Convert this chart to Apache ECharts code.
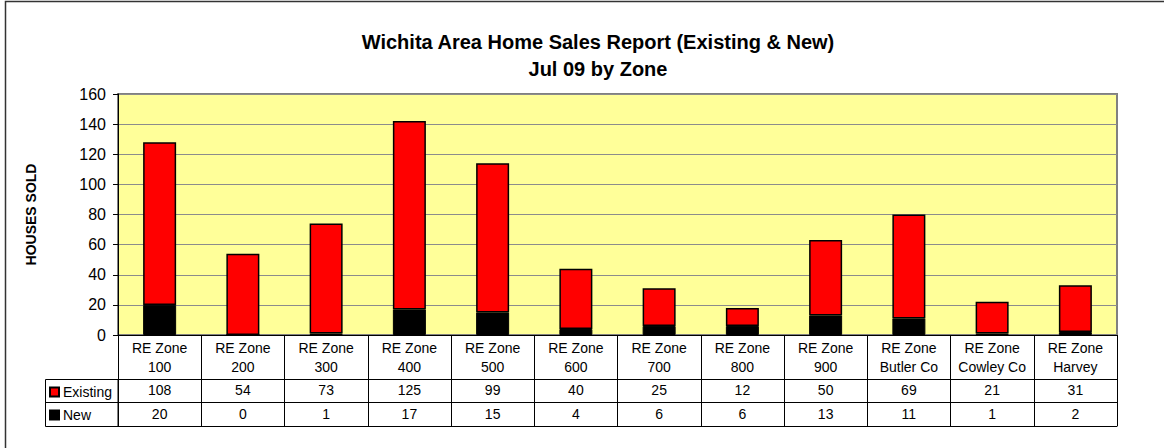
<!DOCTYPE html>
<html>
<head>
<meta charset="utf-8">
<script src="https://cdn.jsdelivr.net/npm/echarts@6/dist/echarts.min.js"></script>
<style>
  html, body { margin: 0; padding: 0; background: #fff; }
  #main { width: 1164px; height: 448px; }
</style>
</head>
<body>
<div id="main"></div>
<script>
    // zones along the x axis
    var zones = ['RE Zone\n100', 'RE Zone\n200', 'RE Zone\n300', 'RE Zone\n400', 'RE Zone\n500', 'RE Zone\n600',
        'RE Zone\n700', 'RE Zone\n800', 'RE Zone\n900', 'RE Zone\nButler Co', 'RE Zone\nCowley Co', 'RE Zone\nHarvey'];
    var existing = [108, 54, 73, 125, 99, 40, 25, 12, 50, 69, 21, 31];
    var newHomes = [20, 0, 1, 17, 15, 4, 6, 6, 13, 11, 1, 2];
    var yTicks = [0, 20, 40, 60, 80, 100, 120, 140, 160];

    var font = 'Liberation Sans, Arial, sans-serif';
    var chart = echarts.init(document.getElementById('main'), null, {renderer: 'svg'});

    // category axes used as the rows of the data table under the plot
    function tableRow(values, offset, margin, show) {
        return {
            type: 'category',
            position: 'bottom',
            offset: offset,
            data: values.map(String),
            axisLine: {show: true, lineStyle: {color: '#000', width: 1}},
            axisTick: {show: false},
            axisLabel: {show: show, interval: 0, margin: margin, color: '#000', fontSize: 14, fontFamily: font},
            splitLine: {show: false}
        };
    }

    chart.setOption({
        backgroundColor: '#fff',
        animation: false,
        title: {
            text: 'Wichita Area Home Sales Report (Existing & New)\nJul 09 by Zone',
            left: 593,
            top: 23,
            textAlign: 'center',
            textStyle: {fontSize: 20, fontWeight: 'bold', color: '#000', fontFamily: font, lineHeight: 27}
        },
        legend: {
            orient: 'vertical',
            left: 49,
            top: 385,
            padding: 0,
            itemWidth: 9,
            itemHeight: 9,
            itemGap: 9,
            icon: 'rect',
            selectedMode: false,
            data: ['Existing', 'New'],
            textStyle: {fontSize: 14, color: '#000', fontFamily: font, padding: [0, 0, 0, -1]}
        },
        grid: {left: 118, top: 94, width: 999, height: 241, containLabel: false},
        xAxis: [
            {
                type: 'category',
                position: 'bottom',
                data: zones,
                axisLine: {show: true, lineStyle: {color: '#000', width: 1}},
                axisTick: {show: true, interval: 0, inside: false, length: 91, lineStyle: {color: '#000'}},
                axisLabel: {interval: 0, margin: 3, color: '#000', fontSize: 14, lineHeight: 19, fontFamily: font},
                splitLine: {show: false}
            },
            tableRow(existing, 44, 4, true),
            tableRow(newHomes, 67, 5, true),
            tableRow(newHomes, 91, 6, false)
        ],
        yAxis: {
            type: 'value',
            min: 0,
            max: 160,
            interval: 20,
            name: 'HOUSES SOLD',
            nameLocation: 'middle',
            nameRotate: 90,
            nameGap: 80,
            nameTextStyle: {fontSize: 14, fontWeight: 'bold', color: '#000', fontFamily: font},
            axisLine: {show: true, lineStyle: {color: '#000'}},
            axisTick: {show: true, inside: false, length: 5, lineStyle: {color: '#000'}},
            axisLabel: {
                color: '#000', fontSize: 16, fontFamily: font, margin: 12,
                formatter: function (v) { return yTicks.indexOf(v) >= 0 ? String(v) : ''; }
            },
            splitLine: {show: true, lineStyle: {color: '#8c8c8c', width: 1}}
        },
        graphic: [
            // yellow plot background with grey frame
            {type: 'rect', z: -10, shape: {x: 118, y: 94, width: 999, height: 241},
                style: {fill: '#FFFF99', stroke: '#808080', lineWidth: 2}},
            // legend column of the data table
            {type: 'rect', z: 10, shape: {x: 45.5, y: 379.5, width: 72.5, height: 47},
                style: {fill: 'none', stroke: '#000', lineWidth: 1}},
            {type: 'line', z: 10, shape: {x1: 45.5, y1: 402.5, x2: 118, y2: 402.5},
                style: {stroke: '#000', lineWidth: 1}},
            // outer chart border
            {type: 'rect', z: 10, shape: {x: 5.5, y: 1.5, width: 1170, height: 460},
                style: {fill: 'none', stroke: '#333', lineWidth: 1.5}}
        ],
        series: [
            {
                name: 'New',
                type: 'bar',
                stack: 'sold',
                barWidth: 33,
                data: newHomes,
                itemStyle: {color: '#000000', borderColor: '#000', borderWidth: 1}
            },
            {
                name: 'Existing',
                type: 'bar',
                stack: 'sold',
                barWidth: 33,
                data: existing,
                itemStyle: {color: '#FF0000', borderColor: '#000', borderWidth: 1.5}
            }
        ]
    });
</script>
</body>
</html>
